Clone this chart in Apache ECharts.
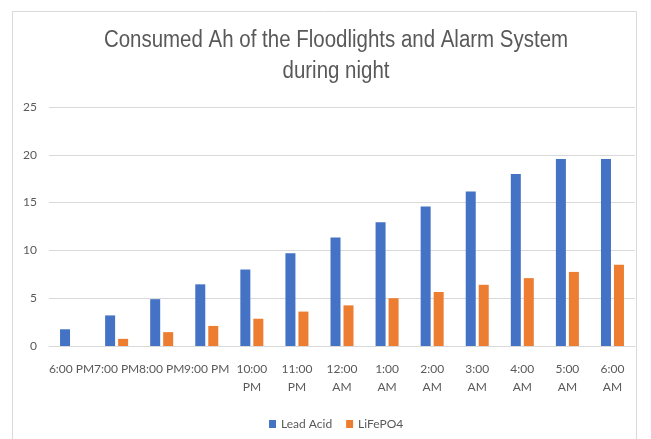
<!DOCTYPE html>
<html><head><meta charset="utf-8">
<script src="https://cdn.jsdelivr.net/npm/echarts@6/dist/echarts.min.js"></script>
<style>html,body{margin:0;padding:0;background:#fff}#c{width:651px;height:439px}</style>
</head><body><div id="c"></div>
<script>
const titleLines = ['Consumed Ah of the Floodlights and Alarm System', 'during night'];
const categories = ['6:00 PM','7:00 PM','8:00 PM','9:00 PM','10:00\nPM','11:00\nPM','12:00\nAM','1:00\nAM','2:00\nAM','3:00\nAM','4:00\nAM','5:00\nAM','6:00\nAM'];
const leadAcid = [1.75, 3.2, 4.9, 6.45, 8.0, 9.7, 11.35, 12.95, 14.6, 16.15, 18.0, 19.55, 19.55];
const lifepo4 = [0, 0.75, 1.45, 2.1, 2.85, 3.6, 4.25, 5.0, 5.65, 6.4, 7.1, 7.75, 8.5];
const yTicks = {min: 0, max: 25, interval: 5};
const chart = echarts.init(document.getElementById('c'));
const txt = '#595959';
chart.setOption({
  animation: false,
  graphic: [
    {type:'rect', shape:{x:12.5,y:11.5,width:624,height:440}, style:{fill:'none', stroke:'#d9d9d9', lineWidth:1}, silent:true},
    {type:'text', x:336, y:29, scaleX:0.89, style:{text:titleLines[0], font:'23px "Liberation Sans"', fill:txt, align:'center', verticalAlign:'top'}, silent:true},
    {type:'text', x:336, y:60, scaleX:0.89, style:{text:titleLines[1], font:'23px "Liberation Sans"', fill:txt, align:'center', verticalAlign:'top'}, silent:true}
  ],
  legend: {
    bottom: 4, left: 264, itemWidth: 7, itemHeight: 8, itemGap: 14,
    icon: 'rect',
    textStyle: {fontFamily: 'Lato', fontSize: 12, color: txt},
    data: ['Lead Acid', 'LiFePO4']
  },
  grid: {left: 49, right: 16, top: 107, bottom: 93, containLabel: false},
  xAxis: {
    type: 'category', data: categories,
    axisLine: {lineStyle: {color: '#d9d9d9'}},
    axisTick: {show: false},
    axisLabel: {interval: 0, color: txt, fontFamily: 'Lato', fontSize: 12, margin: 14, lineHeight: 18}
  },
  yAxis: {
    type: 'value', min: yTicks.min, max: yTicks.max, interval: yTicks.interval,
    axisLine: {show: false}, axisTick: {show: false},
    splitLine: {lineStyle: {color: '#d9d9d9'}},
    axisLabel: {color: txt, fontFamily: 'Lato', fontSize: 12, margin: 12}
  },
  series: [
    {name: 'Lead Acid', type: 'bar', data: leadAcid, barWidth: 10, barGap: '30%', itemStyle: {color: '#4472C4'}},
    {name: 'LiFePO4', type: 'bar', data: lifepo4, barWidth: 10, itemStyle: {color: '#ED7D31'}}
  ]
});
</script></body></html>
